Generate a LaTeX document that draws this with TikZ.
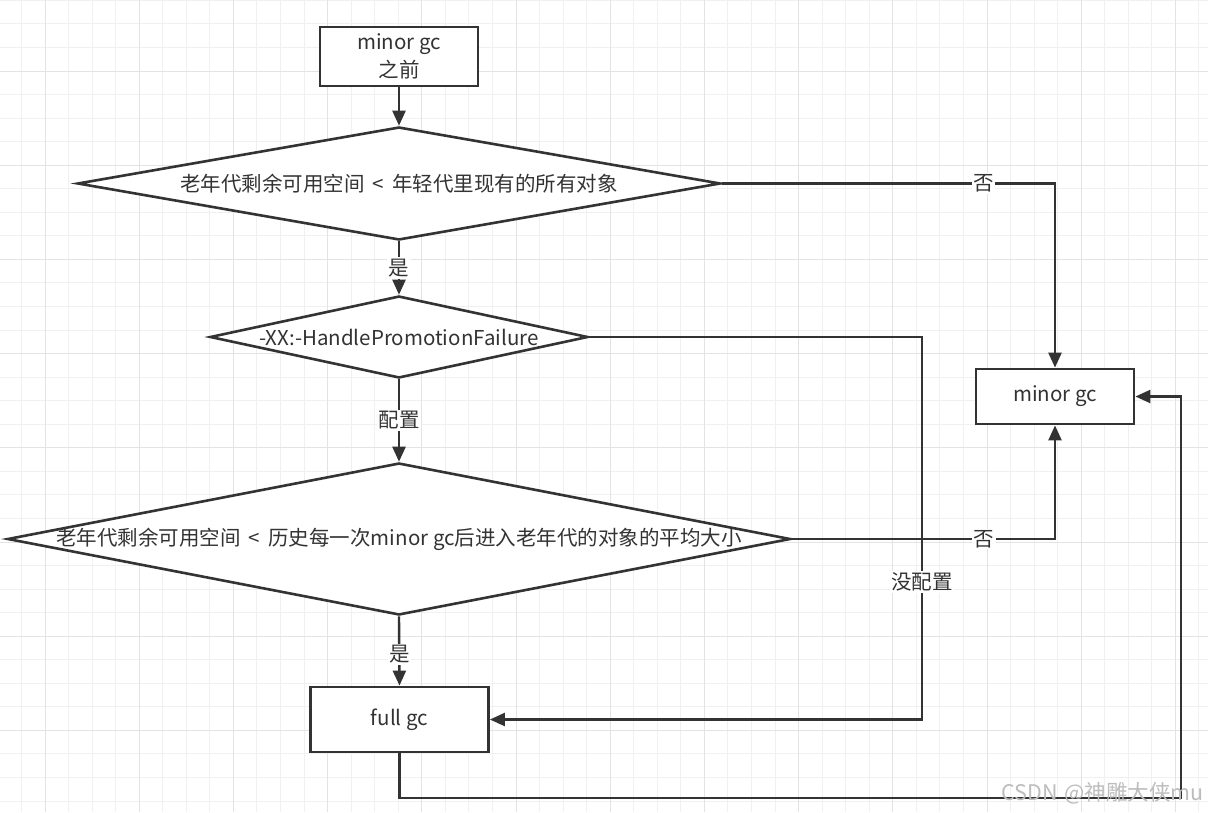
\documentclass[tikz,border=0pt]{standalone}
\usepackage{fontspec}
\setmainfont{Noto Sans CJK SC}
\usetikzlibrary{arrows.meta,shapes.geometric}
\definecolor{ink}{HTML}{333333}
\definecolor{gridminor}{HTML}{F0F0F0}
\definecolor{gridmajor}{HTML}{E3E3E3}
\definecolor{wm}{HTML}{BDBDBD}
\newcommand{\lessgap}{\hspace{0.4em}<\hspace{0.4em}}
\begin{document}
\begin{tikzpicture}[x=1pt,y=-1pt,
  every node/.style={text=ink, font=\fontsize{20.5}{28}\selectfont},
  procbox/.style={draw=ink, line width=2.8pt, fill=white, rectangle, inner sep=0pt, align=center},
  decision/.style={draw=ink, line width=2.6pt, fill=white, diamond, inner sep=0pt},
  conn/.style={draw=ink, line width=2.4pt},
  arr/.style={conn, -{Triangle[length=15pt,width=13pt]}},
  lbl/.style={fill=white, inner sep=1.5pt}
]
% background and grid
\useasboundingbox (0,0) rectangle (1208,812);
\fill[white] (0,0) rectangle (1208,812);
\foreach \k in {-1,...,50} {
  \pgfmathsetmacro{\gx}{45+23.55*\k}
  \draw[gridminor, line width=1pt] (\gx,0) -- (\gx,812);
}
\foreach \k in {-3,...,32} {
  \pgfmathsetmacro{\gy}{71+23.55*\k}
  \draw[gridminor, line width=1pt] (0,\gy) -- (1208,\gy);
}
\foreach \k in {0,...,12} {
  \pgfmathsetmacro{\gx}{45+94.2*\k}
  \draw[gridmajor, line width=1pt] (\gx,0) -- (\gx,812);
}
\foreach \k in {-1,...,8} {
  \pgfmathsetmacro{\gy}{71+94.2*\k}
  \draw[gridmajor, line width=1pt] (0,\gy) -- (1208,\gy);
}

% nodes
\node[procbox, minimum width=158pt, minimum height=59pt] (start) at (399,56.5) {minor gc\\之前};
\node[decision, minimum width=643pt, minimum height=113pt,
      label={center:老年代剩余可用空间\lessgap 年轻代里现有的所有对象}] (d1) at (399,183.5) {};
\node[decision, minimum width=378pt, minimum height=82pt,
      label={center:-XX:-HandlePromotionFailure}] (d2) at (399,337) {};
\node[decision, minimum width=783pt, minimum height=152pt,
      label={center:老年代剩余可用空间\lessgap 历史每一次minor gc后进入老年代的对象的平均大小}] (d3) at (399,539) {};
\node[procbox, minimum width=178pt, minimum height=65pt] (full) at (399.5,719.5) {full gc};
\node[procbox, minimum width=158pt, minimum height=55pt] (minor) at (1055,396.5) {minor gc};

\coordinate (k2) at (922,719.5);
\coordinate (b1) at (1181,798);

% connectors
\draw[arr] (start.south) -- (d1.north);
\draw[arr] (d1.south) -- node[lbl, pos=0.5]{是} (d2.north);
\draw[arr] (d2.south) -- node[lbl, pos=0.5]{配置} (d3.north);
\draw[arr] (d3.south) -- node[lbl, pos=0.55]{是} (full.north);
\draw[arr] (d1.east) -- node[lbl, pos=0.785]{否} (d1.east -| minor.north) -- (minor.north);
\draw[arr] (d3.east) -- node[lbl, pos=0.73]{否} (d3.east -| minor.south) -- (minor.south);
\draw[arr] (d2.east) -- (d2.east -| k2) -- node[lbl, pos=0.64]{没配置} (k2) -- (full.east);
\draw[arr] (full.south) |- (b1) |- (minor.east);

% watermark
\node[text=wm, font=\fontsize{21.5}{24}\selectfont, anchor=east, inner sep=0pt] (wmk) at (1204,793) {CSDN\hspace{0.3em}@神雕大侠mu};
\end{tikzpicture}
\end{document}
